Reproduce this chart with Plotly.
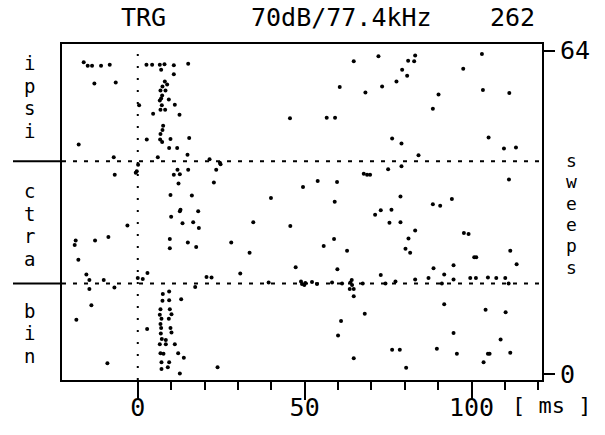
import plotly.graph_objects as go

# ---------------- text / ticks ----------------
title_left = "TRG"
title_mid = "70dB/77.4kHz"
title_right = "262"
x_tickvals = [0, 50, 100]
x_ticktext = ["0", "50", "100"]
x_minor_tickvals = [10, 20, 30, 40, 60, 70, 80, 90, 110, 120]
x_unit = "[ ms ]"
y_tickvals = [0, 64]
y_ticktext = ["0", "64"]
stim_onset = 0
section_bounds = [17.9, 42.1]
side_label = "sweeps"

# ---------------- spikes: (time ms, sweep) ----------------
spikes_ipsi = [
    (-16.2, 61.7), (-15.0, 61.0), (-13.7, 61.0), (-11.0, 61.0), (-8.4, 61.2),
    (-13.0, 57.5), (-6.6, 57.7), (-17.7, 45.4), (-7.2, 42.9), (0.4, 53.2),
    (2.6, 61.2), (4.3, 61.2), (6.6, 61.2), (8.0, 61.3), (10.8, 61.1), (15.1, 61.4),
    (7.0, 60.2), (10.8, 59.3), (8.1, 57.9), (8.8, 57.3), (7.4, 56.9), (6.8, 56.1),
    (8.3, 56.1), (7.3, 55.1), (7.0, 54.5), (6.6, 54.1), (9.3, 54.3), (11.1, 53.3),
    (7.2, 53.2), (6.8, 52.3), (8.2, 52.3), (4.6, 51.5), (12.5, 51.3), (7.6, 49.1),
    (7.4, 48.3), (6.8, 47.5), (2.7, 46.4), (6.7, 46.4), (7.3, 45.9), (9.8, 46.5),
    (15.4, 46.7), (9.4, 44.7), (11.8, 44.7), (14.9, 43.4), (6.0, 42.9), (21.5, 42.5),
    (45.6, 50.6), (56.6, 50.7), (59.1, 50.7), (60.5, 56.8), (64.7, 61.9), (68.2, 55.7),
    (72.1, 62.9), (73.2, 56.9), (76.2, 46.6), (77.5, 57.9), (79.2, 60.2), (79.0, 45.6),
    (80.7, 59.0), (81.0, 62.0), (82.8, 61.9), (83.1, 63.0), (84.1, 43.3), (88.4, 52.5),
    (90.1, 55.3), (97.5, 60.4), (103.1, 63.3), (103.4, 56.2), (105.1, 46.8),
    (109.7, 44.6), (111.3, 55.6), (113.3, 44.8),
]

spikes_ctra = [
    (-0.3, 40.1), (-0.6, 39.8), (0.1, 41.4), (-6.9, 39.4), (10.8, 39.4), (11.9, 40.4),
    (12.6, 39.5), (15.1, 40.4), (12.2, 37.7), (23.5, 40.4), (24.6, 41.8), (24.8, 41.5),
    (22.8, 37.9), (49.5, 37.0), (9.8, 35.4), (16.2, 35.3), (39.9, 34.8), (12.8, 32.5),
    (12.6, 32.2), (18.1, 32.2), (10.0, 31.1), (13.4, 29.8), (16.6, 30.0), (18.3, 28.9),
    (34.6, 30.0), (45.7, 29.3), (-3.1, 29.4), (-8.8, 27.1), (-18.6, 26.4), (-18.9, 25.5),
    (-12.8, 26.4), (9.6, 26.7), (15.0, 26.0), (9.6, 24.9), (17.5, 25.1), (28.0, 26.0),
    (33.5, 24.0), (-17.8, 22.6), (47.3, 21.1), (30.7, 19.9), (2.9, 20.0), (0.0, 19.0),
    (1.5, 18.8), (-15.4, 19.7), (-14.5, 18.6), (-10.2, 18.6), (20.6, 19.2), (22.1, 19.1),
    (39.2, 18.1), (48.9, 18.3),
    (75.0, 40.5), (79.0, 41.1), (67.7, 39.6), (68.7, 39.4), (69.6, 39.4),
    (53.9, 38.2), (59.7, 38.0), (111.2, 38.5), (59.0, 34.1), (78.7, 35.1), (88.4, 33.6),
    (90.6, 33.3), (94.1, 34.6), (71.1, 31.5), (72.8, 32.4), (76.0, 32.5), (75.4, 29.9),
    (78.7, 30.0), (83.1, 28.4), (81.1, 26.8), (58.8, 26.7), (55.7, 25.3), (62.7, 24.4),
    (80.2, 24.8), (81.6, 24.0), (97.7, 27.9), (99.1, 27.7), (100.8, 23.1), (101.4, 23.1),
    (111.6, 24.4), (113.5, 21.7), (59.8, 20.7), (72.8, 19.6), (88.6, 20.9), (91.8, 19.7),
    (94.6, 21.5),
    (64.1, 18.6), (83.1, 18.7), (87.1, 19.0), (94.6, 18.7), (99.6, 19.0), (101.3, 19.0),
    (104.9, 19.1), (107.4, 19.0), (110.1, 19.0), (77.2, 18.3), (52.2, 18.2), (50.2, 18.0),
    (58.2, 18.1), (63.7, 18.1),
]

spikes_bin = [
    (-7.0, 17.1), (-14.5, 16.8), (17.2, 17.2), (49.9, 17.6), (49.2, 17.8), (53.7, 17.8),
    (61.2, 17.9), (64.2, 17.6), (63.5, 16.8), (64.7, 16.8), (64.7, 15.4), (67.4, 17.9),
    (74.2, 17.9), (91.1, 17.9), (111.1, 17.9),
    (7.5, 15.8), (9.4, 16.3), (7.4, 14.5), (9.4, 14.6), (13.0, 14.8), (6.8, 12.8),
    (9.6, 12.8), (6.6, 11.7), (10.1, 11.8), (7.1, 10.9), (9.3, 10.9), (6.8, 9.9),
    (9.8, 9.1), (7.0, 9.1), (10.1, 8.2), (6.9, 8.0), (7.2, 6.9), (8.4, 6.7), (6.6, 5.9),
    (8.4, 5.9), (11.1, 5.9), (6.8, 4.1), (7.7, 4.0), (12.1, 4.1), (13.8, 3.2), (7.1, 2.3),
    (9.4, 2.3), (7.1, 1.0), (9.0, 1.3), (12.6, 0.1), (2.8, 8.9), (23.9, 1.3),
    (-13.9, 13.6), (-18.4, 10.7), (-9.1, 2.1),
    (91.8, 13.8), (60.9, 10.5), (68.0, 11.9), (60.0, 7.6), (64.7, 3.1), (76.2, 4.8),
    (78.5, 4.8), (80.4, 1.2), (89.6, 5.0), (94.6, 8.1), (95.6, 4.0), (104.2, 12.7),
    (103.6, 2.3), (104.9, 4.0), (105.4, 4.0), (108.7, 6.8), (110.2, 12.2), (111.6, 4.2),
]

# ---------------- layout geometry (page px; body margin removed) ----------------
OFF = 0
W, H = 605, 435
PLOT_L, PLOT_R, PLOT_T, PLOT_B = 62, 542, 44, 380   # plot box in page pixels
ML = PLOT_L - OFF
MT = PLOT_T - OFF
MR = W - (PLOT_R - OFF)
MB = H - (PLOT_B - OFF)
X_RANGE = [-22.7, 121.1]
Y_RANGE = [-1.2, 65.3]
PW, PH = W - ML - MR, H - MT - MB
FONT = "DejaVu Sans Mono"


def px(x):
    return (x - OFF - ML) / PW


def py(y):
    return 1 - (y - OFF - MT) / PH


def yv(v):
    return (v - Y_RANGE[0]) / (Y_RANGE[1] - Y_RANGE[0])


all_spikes = spikes_ipsi + spikes_ctra + spikes_bin
times = [p[0] for p in all_spikes]
sweeps = [p[1] for p in all_spikes]

fig = go.Figure()
fig.add_trace(go.Scatter(
    x=times, y=sweeps, mode="markers",
    marker=dict(size=4, color="black", line=dict(width=0)),
    showlegend=False, hoverinfo="skip",
))

shapes = []
# stimulus onset dotted line
shapes.append(dict(type="line", xref="x", yref="y", x0=stim_onset, x1=stim_onset,
                   y0=Y_RANGE[0], y1=Y_RANGE[1],
                   line=dict(color="black", width=2, dash="2px,10px")))
for b in section_bounds:
    shapes.append(dict(type="line", xref="x", yref="y", x0=X_RANGE[0], x1=X_RANGE[1],
                       y0=b, y1=b, line=dict(color="black", width=2, dash="4px,7px")))
    shapes.append(dict(type="line", xref="paper", yref="paper", x0=px(13), x1=0,
                       y0=yv(b), y1=yv(b), line=dict(color="black", width=2)))

annotations = []


def add_text(text, x, y, size, xanchor="center", yanchor="middle"):
    annotations.append(dict(text=text, x=px(x), y=py(y), xref="paper", yref="paper",
                            showarrow=False, xanchor=xanchor, yanchor=yanchor,
                            font=dict(family=FONT, size=size, color="black")))


add_text(title_left, 143, 17, 25)
add_text(title_mid, 341, 17, 25)
add_text(title_right, 512, 17, 25)
add_text(x_unit, 551, 405, 22)

# stacked section letters (left): baselines in page px
letter_baselines = {
    "ipsi": [69, 92, 114, 137],
    "ctra": [197, 220, 242, 265],
    "bin": [317, 339, 362],
}
for word, bases in letter_baselines.items():
    for ch, b in zip(word, bases):
        add_text(ch, 29, b - 6, 19)

sweep_centers = [159, 180, 202, 223, 244, 266]
for ch, c in zip(side_label, sweep_centers):
    add_text(ch, 571, c + 1, 18)

fig.update_layout(
    width=W, height=H,
    margin=dict(l=ML, r=MR, t=MT, b=MB, pad=0),
    paper_bgcolor="white", plot_bgcolor="white",
    shapes=shapes, annotations=annotations,
    font=dict(family=FONT, size=25, color="black"),
    xaxis=dict(
        range=X_RANGE, showgrid=False, zeroline=False, automargin=False,
        showline=True, mirror=True, linecolor="black", linewidth=2,
        tickvals=x_tickvals, ticktext=x_ticktext,
        ticks="outside", ticklen=18, tickwidth=2, tickcolor="black",
        ticklabelstandoff=-14,
        minor=dict(tickvals=x_minor_tickvals, ticks="outside", ticklen=8,
                   tickwidth=2, tickcolor="black", showgrid=False),
        tickfont=dict(family=FONT, size=25, color="black"),
    ),
    yaxis=dict(
        range=Y_RANGE, showgrid=False, zeroline=False, side="right", automargin=False,
        showline=True, mirror=True, linecolor="black", linewidth=2,
        tickvals=y_tickvals, ticktext=y_ticktext,
        ticks="outside", ticklen=11, tickwidth=2, tickcolor="black",
        tickfont=dict(family=FONT, size=25, color="black"),
    ),
)

fig.write_html(
    "out.html",
    config={"displayModeBar": False, "staticPlot": True},
    post_script="document.body.style.margin='0';document.body.style.overflow='hidden';",
)
